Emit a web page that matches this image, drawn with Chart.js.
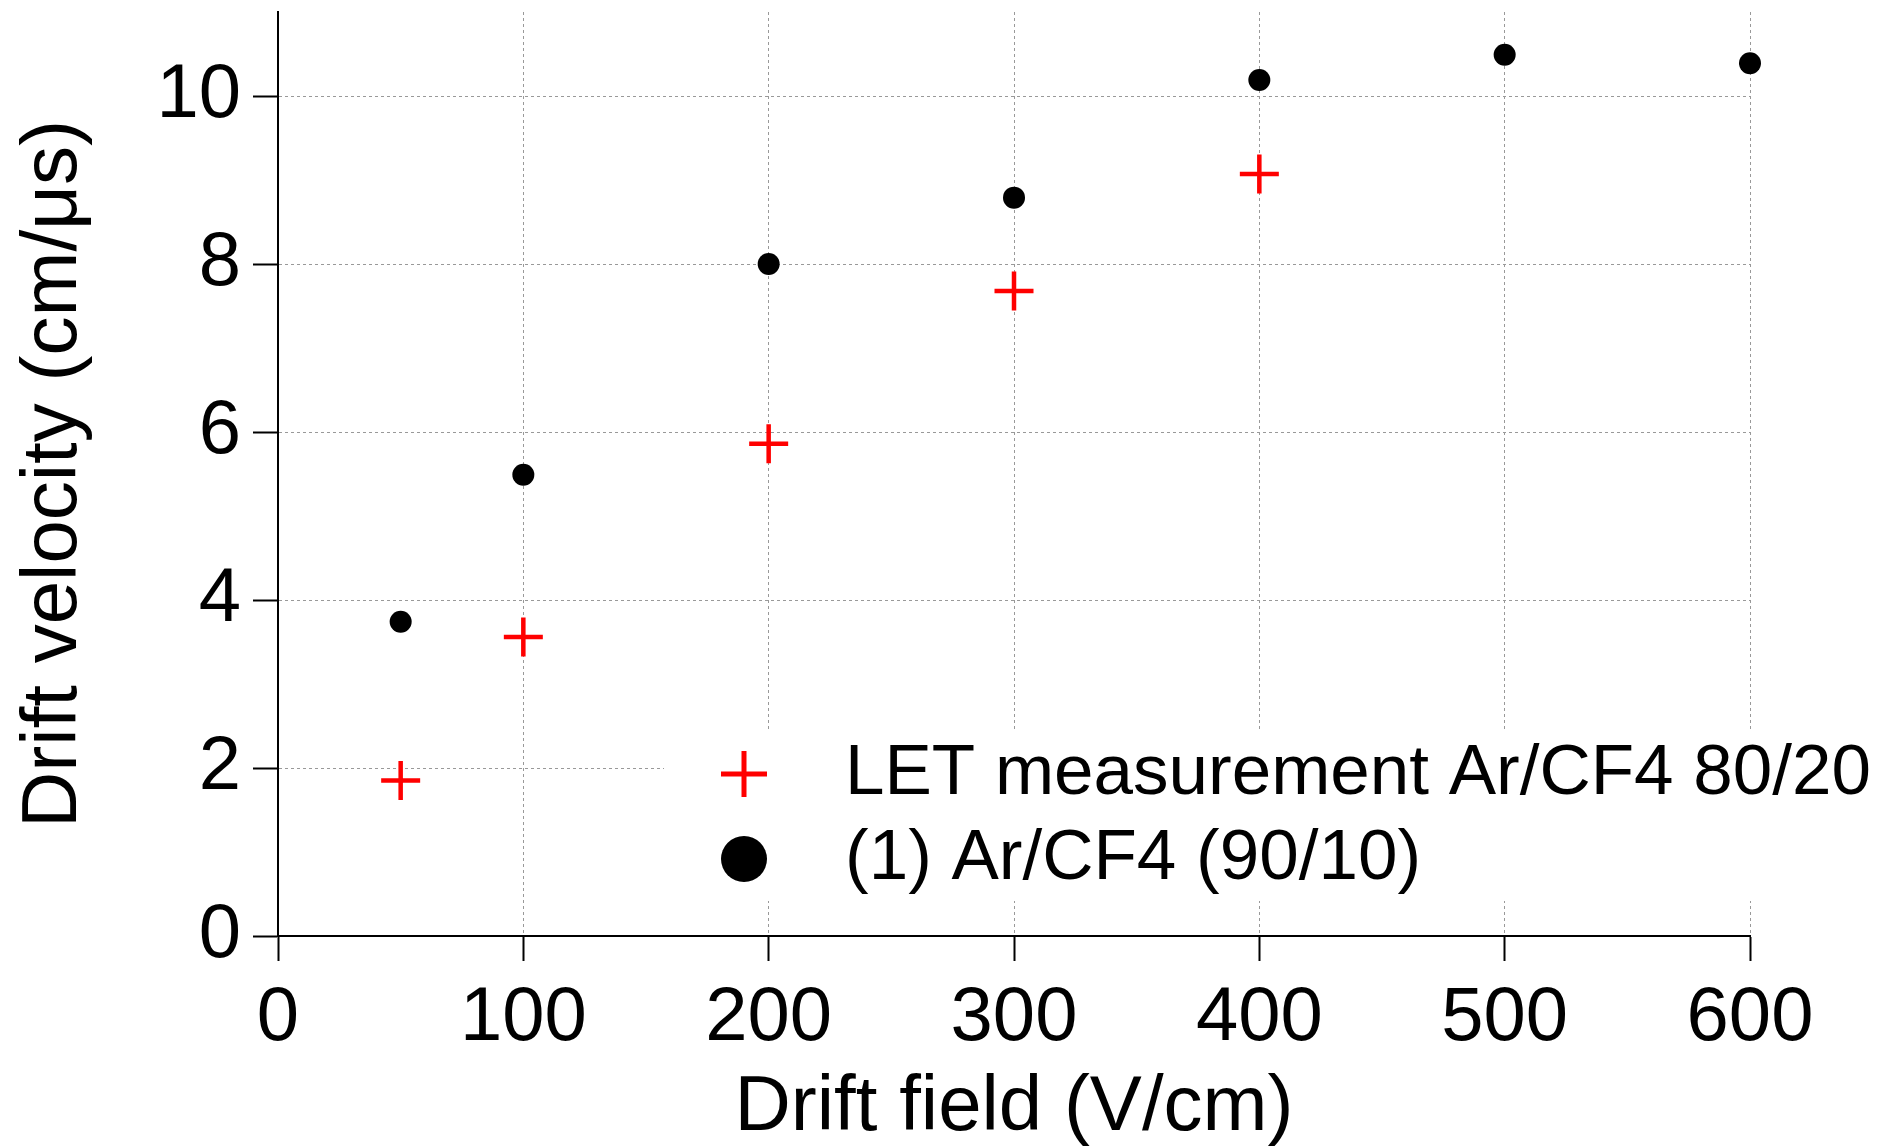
<!DOCTYPE html>
<html>
<head>
<meta charset="utf-8">
<title>Drift velocity vs drift field</title>
<script src="https://cdn.jsdelivr.net/npm/chart.js@4"></script>
<style>
  html, body { margin: 0; padding: 0; background: #fff; }
  #wrap { width: 1881px; height: 1147px; position: relative; }
</style>
</head>
<body>
<div id="wrap"><canvas id="chart"></canvas></div>
<script>
// LET measurement, Ar/CF4 80/20
const fieldLET = [50, 100, 200, 300, 400];
const velLET = [1.85, 3.56, 5.86, 7.68, 9.07];

// reference (1), Ar/CF4 90/10
const fieldRef = [50, 100, 200, 300, 400, 500, 600];
const velRef = [3.74, 5.49, 8.0, 8.79, 10.19, 10.49, 10.39];

const xTicks = [0, 100, 200, 300, 400, 500, 600];
const yTicks = [0, 2, 4, 6, 8, 10];
const seriesNames = ['LET measurement Ar/CF4 80/20', '(1) Ar/CF4 (90/10)'];

const FONT = '"Liberation Sans", Arial, Helvetica, sans-serif';

function toPoints(xs, ys) {
  return xs.map((x, i) => ({ x: x, y: ys[i] }));
}

// legend drawn inside the plot area, on a white box that hides the grid
const insideLegend = {
  id: 'insideLegend',
  beforeDatasetsDraw(chart) {
    const { ctx, chartArea } = chart;
    const boxLeft = chartArea.left + 386;
    const boxTop = chartArea.bottom - 205;
    ctx.save();
    ctx.fillStyle = '#fff';
    ctx.fillRect(boxLeft, boxTop, chart.width - boxLeft, 170);

    const rows = [chartArea.bottom - 162, chartArea.bottom - 77];
    const markerX = chartArea.left + 466;
    const textX = chartArea.left + 567;
    chart.data.datasets.forEach((ds, i) => {
      const y = rows[i];
      const isCross = ds.pointStyle === 'cross';
      ctx.fillStyle = ds.pointBackgroundColor;
      ctx.strokeStyle = ds.pointBorderColor;
      ctx.lineWidth = ds.pointBorderWidth + 0.5;
      Chart.helpers.drawPoint(ctx, {
        pointStyle: ds.pointStyle,
        radius: 23,
        rotation: 0,
        borderWidth: isCross ? ds.pointBorderWidth + 0.5 : 0
      }, markerX, y);
      ctx.fillStyle = '#000';
      ctx.font = '71px ' + FONT;
      ctx.textBaseline = 'middle';
      ctx.textAlign = 'left';
      ctx.fillText(ds.label, textX, y);
    });
    ctx.restore();
  }
};

const ctx = document.getElementById('chart').getContext('2d');
new Chart(ctx, {
  type: 'scatter',
  data: {
    datasets: [
      {
        label: seriesNames[0],
        data: toPoints(fieldLET, velLET),
        pointStyle: 'cross',
        pointRadius: 19.5,
        pointHoverRadius: 19.5,
        pointBorderWidth: 4.5,
        pointBorderColor: '#ff0000',
        pointBackgroundColor: '#ff0000',
        showLine: false,
        clip: false
      },
      {
        label: seriesNames[1],
        data: toPoints(fieldRef, velRef),
        pointStyle: 'circle',
        pointRadius: 11,
        pointHoverRadius: 11,
        pointBorderWidth: 0,
        pointBorderColor: '#000',
        pointBackgroundColor: '#000',
        showLine: false,
        clip: false
      }
    ]
  },
  options: {
    responsive: true,
    maintainAspectRatio: false,
    animation: false,
    events: [],
    layout: { autoPadding: false, padding: { left: 0, right: 131, top: 12, bottom: 0 } },
    plugins: {
      legend: { display: false },
      tooltip: { enabled: false }
    },
    scales: {
      x: {
        type: 'linear',
        min: 0,
        max: 600,
        afterBuildTicks: (s) => { s.ticks = xTicks.map((v) => ({ value: v })); },
        afterFit: (s) => { s.height = 211; s.paddingLeft = 0; s.paddingRight = 0; },
        grid: { color: '#999', lineWidth: 1, tickLength: 25, tickColor: '#000', tickWidth: 2 },
        border: { display: true, color: '#000', width: 2, dash: [3, 3] },
        ticks: {
          color: '#000',
          padding: 12,
          maxRotation: 0,
          font: { family: FONT, size: 76, lineHeight: 1.2 }
        },
        title: {
          display: true,
          text: 'Drift field (V/cm)',
          color: '#000',
          font: { family: FONT, size: 78, lineHeight: 1 },
          padding: { top: 0, bottom: 0 }
        }
      },
      y: {
        type: 'linear',
        min: 0,
        max: 11,
        afterBuildTicks: (s) => { s.ticks = yTicks.map((v) => ({ value: v })); },
        afterFit: (s) => { s.width = 278; s.paddingTop = 0; s.paddingBottom = 0; },
        grid: { color: '#999', lineWidth: 1, tickLength: 25, tickColor: '#000', tickWidth: 2 },
        border: { display: true, color: '#000', width: 2, dash: [3, 3] },
        ticks: {
          color: '#000',
          padding: 12,
          font: { family: FONT, size: 76, lineHeight: 1.2 }
        },
        title: {
          display: true,
          text: 'Drift velocity (cm/μs)',
          color: '#000',
          font: { family: FONT, size: 78, lineHeight: 1 },
          padding: { top: 15, bottom: 0 }
        }
      }
    }
  },
  plugins: [insideLegend]
});
</script>
</body>
</html>
